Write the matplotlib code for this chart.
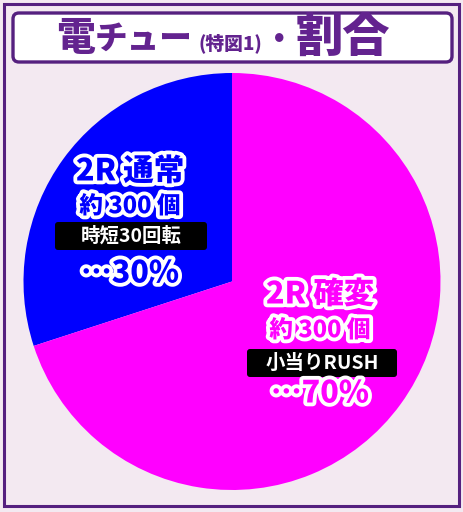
import matplotlib
matplotlib.use("Agg")
import matplotlib.pyplot as plt
from matplotlib.patches import Rectangle, FancyBboxPatch
import matplotlib.patheffects as pe

plt.rcParams['font.family'] = ['Noto Sans CJK JP', 'DejaVu Sans']

# ---- data ----
categories = ["2R 確変", "2R 通常"]
values = [70, 30]
colors = ["#ff00ff", "#0000ff"]
sub_labels = ["約 300 個", "約 300 個"]
box_labels = ["小当りRUSH", "時短30回転"]
pct_labels = ["…70%", "…30%"]

W, H = 463, 512
fig = plt.figure(figsize=(W / 100, H / 100), dpi=100)
fig.patch.set_facecolor("#f3e9f1")
ax = fig.add_axes([0, 0, 1, 1])

def Y(py):
    return H - py

purple = "#55207f"
title_col = "#63238f"

# pie (blue slice drawn from 12 o'clock counter-clockwise)
ax.pie(values[::-1], colors=colors[::-1], startangle=90, counterclock=True,
       center=(232, Y(281.5)), radius=208.5,
       wedgeprops=dict(linewidth=0))
ax.set_xlim(0, W)
ax.set_ylim(0, H)
ax.set_aspect("auto")
ax.axis("off")

# outer border
ax.add_patch(Rectangle((4, Y(506)), 455, 502, fill=False, edgecolor=purple,
                       linewidth=2.2, zorder=5))
# title box
ax.add_patch(FancyBboxPatch((13, Y(62)), 439, 49,
                            boxstyle="round,pad=0,rounding_size=6",
                            facecolor="white", edgecolor=purple, linewidth=2.4, zorder=5))

tkw = dict(color=title_col, fontweight="heavy", va="center", zorder=6)
ax.text(56, Y(38), "電", fontsize=28, ha="left", **tkw)
ax.text(95, Y(39), "チュー", fontsize=23.5, ha="left", **tkw)
ax.text(199, Y(43), "(特図1)", fontsize=13.5, ha="left", **tkw)
ax.text(279, Y(39), "・", fontsize=22, ha="center", **tkw)
ax.text(296, Y(38), "割合", fontsize=34, ha="left", **tkw)

stroke = [pe.withStroke(linewidth=5.5, foreground="white")]

def label_block(cx, ys, idx, box):
    col = colors[idx]
    ax.text(cx, Y(ys[0]), categories[idx], fontsize=22, fontweight="heavy",
            color=col, ha="center", va="center", path_effects=stroke, zorder=7)
    ax.text(cx, Y(ys[1]), sub_labels[idx], fontsize=17, fontweight="heavy",
            color=col, ha="center", va="center", path_effects=stroke, zorder=7)
    bx0, by0, bx1, by1 = box
    ax.add_patch(FancyBboxPatch((bx0, Y(by1)), bx1 - bx0, by1 - by0,
                                boxstyle="round,pad=0,rounding_size=3",
                                facecolor="black", edgecolor="none", zorder=7))
    ax.text((bx0 + bx1) / 2, Y((by0 + by1) / 2), box_labels[idx], fontsize=14,
            fontweight="bold", color="white", ha="center", va="center", zorder=8)
    ax.text(cx, Y(ys[2]), pct_labels[idx], fontsize=22, fontweight="heavy",
            color=col, ha="center", va="center", path_effects=stroke, zorder=7)

label_block(320, (294, 330, 393), 0, (247, 349, 397, 377))
label_block(130, (171, 206, 273), 1, (55, 222, 207, 250))

fig.savefig("out.png", dpi=100, facecolor=fig.get_facecolor())
